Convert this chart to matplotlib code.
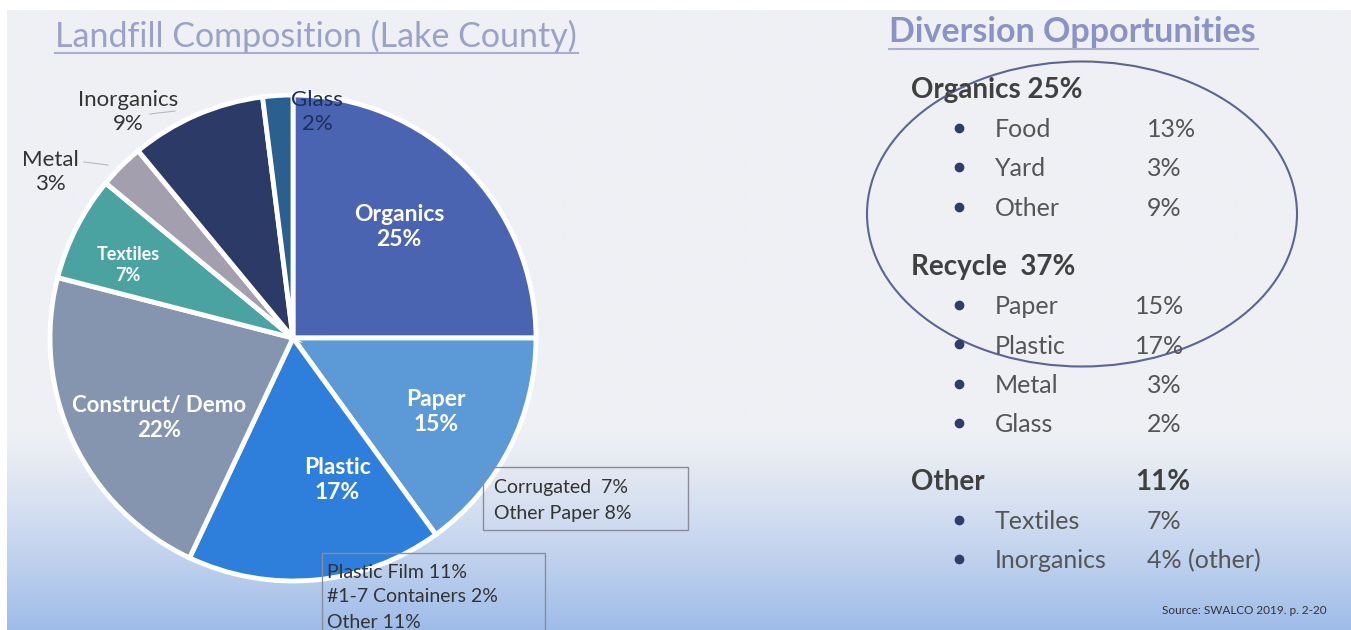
import numpy as np
import matplotlib
matplotlib.use("Agg")
import matplotlib.pyplot as plt
from matplotlib.patches import Ellipse, Rectangle
from matplotlib.colors import to_rgb

plt.rcParams['font.family'] = ['Lato', 'DejaVu Sans']

# pie data
categories = ['Organics', 'Paper', 'Plastic', 'Construct/ Demo', 'Textiles', 'Metal', 'Inorganics', 'Glass']
shares = [25, 15, 17, 22, 7, 3, 9, 2]
colors = ['#4a64b1', '#5b9ad6', '#2e7fdb', '#8595b0', '#4aa3a1', '#a39fae', '#2b3a66', '#2a5f90']

# diversion list
groups = ['Organics 25%', 'Recycle  37%', 'Other']
group_pct = ['', '', '11%']
items = [['Food', 'Yard', 'Other'],
         ['Paper', 'Plastic', 'Metal', 'Glass'],
         ['Textiles', 'Inorganics']]
item_pct = [['13%', '3%', '9%'],
            ['15%', '17%', '3%', '2%'],
            ['7%', '4% (other)']]

paper_detail = ['Corrugated  7%', 'Other Paper 8%']
plastic_detail = ['Plastic Film 11%', '#1-7 Containers 2%', 'Other 11%']

W, H = 1351, 630
fig = plt.figure(figsize=(W / 100, H / 100), dpi=100)

# background gradient
bg = fig.add_axes([0, 0, 1, 1], zorder=0)
bg.set_xlim(0, W)
bg.set_ylim(H, 0)
bg.axis('off')
ys = np.linspace(0, 1, 300)
top = np.array(to_rgb('#eef0f4'))
bot = np.array(to_rgb('#9fbce9'))
t = np.clip((ys - 0.68) / 0.32, 0, 1) ** 1.2
grad = top[None, :] * (1 - t[:, None]) + bot[None, :] * t[:, None]
img = np.repeat(grad[:, None, :], 2, axis=1)
bg.imshow(img, extent=[7, W, H, 10], aspect='auto', interpolation='bilinear')

# pie, centre at pixel (293, 338), radius 243 px
cx, cy, R = 293, 338, 243
pax = fig.add_axes([0, 0, 600 / W, 1], zorder=1)
pax.pie(shares, colors=colors, startangle=90, counterclock=False,
        wedgeprops=dict(edgecolor='white', linewidth=3.5))
pax.set_xlim(-cx / R, (600 - cx) / R)
pax.set_ylim(-(H - cy) / R, cy / R)
pax.set_aspect('auto')
pax.axis('off')

ov = fig.add_axes([0, 0, 1, 1], zorder=2)
ov.set_xlim(0, W)
ov.set_ylim(H, 0)
ov.axis('off')
ov.patch.set_alpha(0)

# pie labels
lab_pos = [(399, 227), (436, 412), (337, 480), (159, 418), (128, 265), (50, 172), (128, 112), (317, 112)]
lab_col = ['white'] * 5 + ['#333333', '#333333', '#1f2d5a']
lab_size = [16.5, 16.5, 16.5, 16, 13, 16, 16, 16]
for i, (name, v) in enumerate(zip(categories, shares)):
    x, y = lab_pos[i]
    ov.text(x, y, f'{name}\n{v}%', ha='center', va='center', color=lab_col[i],
            fontsize=lab_size[i], fontweight='bold' if i < 5 else 'normal', linespacing=1.25)
ov.plot([150, 175], [114, 111], color='#b8b8c0', lw=0.8)
ov.plot([84, 108], [162, 165], color='#b8b8c0', lw=0.8)

# detail boxes
ov.add_patch(Rectangle((483, 467), 205, 63, fill=False, ec='#8a8c9c', lw=1))
for k, s in enumerate(paper_detail):
    ov.text(494, 487 + k * 27, s, fontsize=14, color='#333333', va='center')
ov.add_patch(Rectangle((322, 553), 223, 90, fill=False, ec='#8a8c9c', lw=1))
for k, s in enumerate(plastic_detail):
    ov.text(327, 572 + k * 25, s, fontsize=14, color='#333333', va='center')

# titles
ov.text(55, 36, 'Landfill Composition (Lake County)', fontsize=24.5, color='#9aa2c8', va='center')
ov.plot([55, 578], [53, 53], color='#a7aecf', lw=1.5)
ov.text(889, 32, 'Diversion Opportunities', fontsize=24.5, fontweight='bold', color='#8a92c6', va='center')
ov.plot([889, 1258], [49, 49], color='#a7aecf', lw=1.5)

# diversion list
group_y = [90, 267, 482]
step = 39.5
for g, name in enumerate(groups):
    y0 = group_y[g]
    ov.text(911, y0, name, fontsize=20, fontweight='bold', color='#404040', va='center')
    if group_pct[g]:
        ov.text(1135, y0, group_pct[g], fontsize=20, fontweight='bold', color='#404040', va='center')
    for k, (it, p) in enumerate(zip(items[g], item_pct[g])):
        y = y0 + (k + 1) * step
        ov.plot(959, y - 2, 'o', color='#2f3d6b', ms=6)
        ov.text(995, y, it, fontsize=18, color='#555555', va='center')
        px = 1135 if (g == 1 and k < 2) else 1147
        ov.text(px, y, p, fontsize=18, color='#555555', va='center')

ov.add_patch(Ellipse((1082, 214), 430, 305, fill=False, ec='#5b6592', lw=1.5))

ov.text(1162, 610, 'Source: SWALCO 2019. p. 2-20', fontsize=8.5, color='#333333', va='center')

fig.savefig('out.png', dpi=100)
